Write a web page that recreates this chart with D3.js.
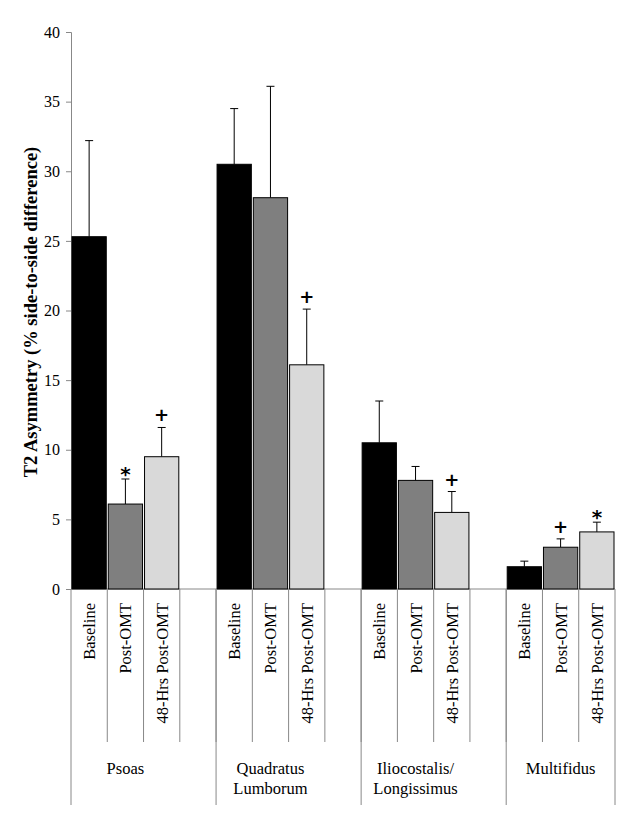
<!DOCTYPE html><html><head><script src="https://cdn.jsdelivr.net/npm/d3@7"></script>
<style>body{margin:0;background:#fff}</style></head><body><svg id="c" width="626" height="822"></svg>
<script>
const groups=["Psoas","Quadratus|Lumborum","Iliocostalis/|Longissimus","Multifidus"];
const conditions=["Baseline","Post-OMT","48-Hrs Post-OMT"];
const means=[[25.3,6.1,9.5],[30.5,28.1,16.1],[10.5,7.8,5.5],[1.6,3.0,4.1]];
const upper=[[32.2,7.9,11.6],[34.5,36.1,20.1],[13.5,8.8,7.0],[2.0,3.6,4.8]];
const marks=[["","*","+"],["","","+"],["","","+"],["","+","*"]];
const yTicks=[0,5,10,15,20,25,30,35,40];
const colors=["#000000","#7f7f7f","#d9d9d9"];
const svg=d3.select("#c");const F="Liberation Serif, Times New Roman, serif";
const y=d3.scaleLinear().domain([0,40]).range([589,32]);
const slots=[];groups.forEach((g,gi)=>{for(let s=0;s<(gi<3?4:3);s++)slots.push(gi+"-"+s)});
const x=d3.scaleBand().domain(slots).range([71,615]).padding(0);
const bw=x.bandwidth();
const ax=svg.append("g").attr("transform","translate(71,0)").call(d3.axisLeft(y).tickValues(yTicks).tickSize(5).tickPadding(6));
ax.selectAll("text").attr("font-family",F).attr("font-size",16).attr("fill","#000");
ax.select(".domain").attr("stroke","#888");ax.selectAll(".tick line").attr("stroke","#888");
svg.append("text").attr("transform","translate(37,312) rotate(-90)").attr("text-anchor","middle")
 .attr("font-family",F).attr("font-weight","bold").attr("font-size",18.5).text("T2 Asymmetry (% side-to-side difference)");
svg.append("line").attr("x1",71).attr("x2",615).attr("y1",589).attr("y2",589).attr("stroke","#888");
means.forEach((row,gi)=>row.forEach((v,ci)=>{
 const x0=x(gi+"-"+ci),cx=x0+bw/2;
 svg.append("line").attr("x1",cx).attr("x2",cx).attr("y1",y(v)).attr("y2",y(upper[gi][ci])).attr("stroke","#000");
 svg.append("line").attr("x1",cx-4).attr("x2",cx+4).attr("y1",y(upper[gi][ci])).attr("y2",y(upper[gi][ci])).attr("stroke","#000");
 svg.append("rect").attr("x",x0+1).attr("width",bw-2).attr("y",y(v)).attr("height",y(0)-y(v)).attr("fill",colors[ci]).attr("stroke","#000").attr("stroke-width",1);
 if(marks[gi][ci])svg.append("text").attr("x",cx).attr("y",y(upper[gi][ci])-(marks[gi][ci]=="*"?-2:6)).attr("text-anchor","middle")
  .attr("font-family","DejaVu Sans, sans-serif").attr("font-weight","bold").attr("font-size",marks[gi][ci]=="*"?20:18).text(marks[gi][ci]);
 svg.append("text").attr("transform",`translate(${cx+6},603) rotate(-90)`).attr("text-anchor","end")
  .attr("font-family",F).attr("font-size",16.5).text(conditions[ci]);
}));
slots.forEach(s=>{const xx=x(s)+bw;if(xx<614)svg.append("line").attr("x1",xx).attr("x2",xx).attr("y1",589).attr("y2",742).attr("stroke","#888");});
const gb=[71];let k=0;groups.forEach((g,gi)=>{k+=gi<3?4:3;gb.push(x(slots[k-1])+bw)});
gb.forEach(b=>svg.append("line").attr("x1",b).attr("x2",b).attr("y1",589).attr("y2",805).attr("stroke","#888"));
groups.forEach((g,gi)=>{
 const mid=gi<3?(gb[gi]+gb[gi]+3*bw)/2:(gb[gi]+gb[gi+1])/2;
 g.split("|").forEach((l,li)=>svg.append("text").attr("x",mid).attr("y",774+li*20).attr("text-anchor","middle").attr("font-family",F).attr("font-size",16.5).text(l));});
</script></body></html>
